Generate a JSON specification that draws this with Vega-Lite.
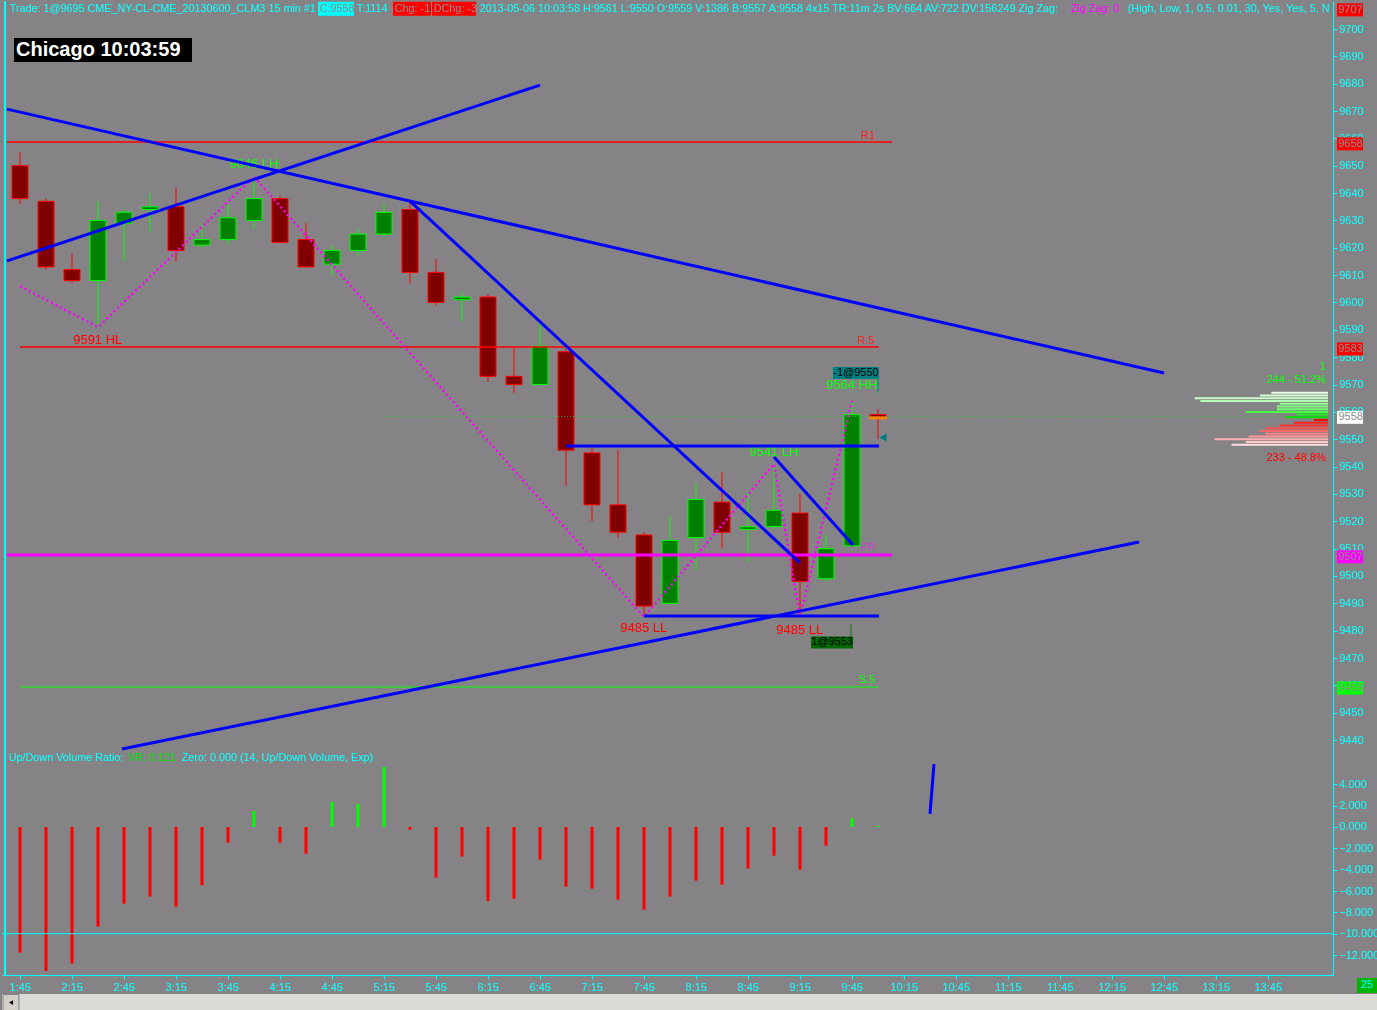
{
"$schema": "https://vega.github.io/schema/vega-lite/v6.json",
"background": "#858385",
"padding": 0,
"spacing": 0,
"bounds": "flush",
"config": {"view": {"stroke": null}, "scale": {"continuousPadding": 0}, "axis": {"labelFont": "Liberation Sans", "labelFontSize": 11, "labelColor": "#00ffff", "domainColor": "#00ffff", "tickColor": "#00ffff", "grid": false, "labelOverlap": false, "labelFlush": false}, "text": {"font": "Liberation Sans", "fontSize": 11}},
"datasets": {
"candles": [
{"t":"2013-05-06T01:45","open":9650,"high":9655,"low":9636,"close":9638},
{"t":"2013-05-06T02:00","open":9637,"high":9638,"low":9612,"close":9613},
{"t":"2013-05-06T02:15","open":9612,"high":9618,"low":9607,"close":9608},
{"t":"2013-05-06T02:30","open":9608,"high":9637,"low":9591,"close":9630},
{"t":"2013-05-06T02:45","open":9629,"high":9634,"low":9615,"close":9633},
{"t":"2013-05-06T03:00","open":9634,"high":9640,"low":9626,"close":9635},
{"t":"2013-05-06T03:15","open":9635,"high":9642,"low":9615,"close":9619},
{"t":"2013-05-06T03:30","open":9621,"high":9629,"low":9620,"close":9623},
{"t":"2013-05-06T03:45","open":9623,"high":9636,"low":9621,"close":9631},
{"t":"2013-05-06T04:00","open":9630,"high":9646,"low":9627,"close":9638},
{"t":"2013-05-06T04:15","open":9638,"high":9639,"low":9622,"close":9622},
{"t":"2013-05-06T04:30","open":9623,"high":9629,"low":9613,"close":9613},
{"t":"2013-05-06T04:45","open":9614,"high":9621,"low":9610,"close":9619},
{"t":"2013-05-06T05:00","open":9619,"high":9627,"low":9617,"close":9625},
{"t":"2013-05-06T05:15","open":9625,"high":9636,"low":9624,"close":9633},
{"t":"2013-05-06T05:30","open":9634,"high":9637,"low":9607,"close":9611},
{"t":"2013-05-06T05:45","open":9611,"high":9616,"low":9599,"close":9600},
{"t":"2013-05-06T06:00","open":9601,"high":9604,"low":9593,"close":9602},
{"t":"2013-05-06T06:15","open":9602,"high":9603,"low":9571,"close":9573},
{"t":"2013-05-06T06:30","open":9573,"high":9584,"low":9567,"close":9570},
{"t":"2013-05-06T06:45","open":9570,"high":9593,"low":9570,"close":9584},
{"t":"2013-05-06T07:00","open":9582,"high":9583,"low":9533,"close":9546},
{"t":"2013-05-06T07:15","open":9545,"high":9547,"low":9520,"close":9526},
{"t":"2013-05-06T07:30","open":9526,"high":9546,"low":9514,"close":9516},
{"t":"2013-05-06T07:45","open":9515,"high":9516,"low":9486,"close":9489},
{"t":"2013-05-06T08:00","open":9490,"high":9522,"low":9490,"close":9513},
{"t":"2013-05-06T08:15","open":9514,"high":9534,"low":9502,"close":9528},
{"t":"2013-05-06T08:30","open":9527,"high":9538,"low":9510,"close":9516},
{"t":"2013-05-06T08:45","open":9517,"high":9531,"low":9505,"close":9518},
{"t":"2013-05-06T09:00","open":9518,"high":9541,"low":9517,"close":9524},
{"t":"2013-05-06T09:15","open":9523,"high":9530,"low":9486,"close":9498},
{"t":"2013-05-06T09:30","open":9499,"high":9515,"low":9498,"close":9510},
{"t":"2013-05-06T09:45","open":9511,"high":9564,"low":9511,"close":9559},
{"t":"2013-05-06T10:00","open":9559,"high":9561,"low":9550,"close":9558}
],
"vr": [
{"t":"2013-05-06T01:45","vr":-11.78},{"t":"2013-05-06T02:00","vr":-13.5},{"t":"2013-05-06T02:15","vr":-12.8},{"t":"2013-05-06T02:30","vr":-9.34},
{"t":"2013-05-06T02:45","vr":-7.19},{"t":"2013-05-06T03:00","vr":-6.53},{"t":"2013-05-06T03:15","vr":-7.47},{"t":"2013-05-06T03:30","vr":-5.44},
{"t":"2013-05-06T03:45","vr":-1.47},{"t":"2013-05-06T04:00","vr":1.5},{"t":"2013-05-06T04:15","vr":-1.47},{"t":"2013-05-06T04:30","vr":-2.5},
{"t":"2013-05-06T04:45","vr":2.34},{"t":"2013-05-06T05:00","vr":2.16},{"t":"2013-05-06T05:15","vr":5.63},{"t":"2013-05-06T05:30","vr":-0.25},
{"t":"2013-05-06T05:45","vr":-4.75},{"t":"2013-05-06T06:00","vr":-2.78},{"t":"2013-05-06T06:15","vr":-6.94},{"t":"2013-05-06T06:30","vr":-6.72},
{"t":"2013-05-06T06:45","vr":-3.06},{"t":"2013-05-06T07:00","vr":-5.59},{"t":"2013-05-06T07:15","vr":-5.78},{"t":"2013-05-06T07:30","vr":-6.81},
{"t":"2013-05-06T07:45","vr":-7.75},{"t":"2013-05-06T08:00","vr":-6.53},{"t":"2013-05-06T08:15","vr":-5.03},{"t":"2013-05-06T08:30","vr":-5.4},
{"t":"2013-05-06T08:45","vr":-3.9},{"t":"2013-05-06T09:00","vr":-2.69},{"t":"2013-05-06T09:15","vr":-4.0},{"t":"2013-05-06T09:30","vr":-1.75},
{"t":"2013-05-06T09:45","vr":0.81},{"t":"2013-05-06T10:00","vr":0.121}
],
"profile": [
{"price":9567,"vol":20},{"price":9566,"vol":24},{"price":9565,"vol":47},{"price":9564,"vol":45},{"price":9563,"vol":17},
{"price":9562,"vol":18},{"price":9561,"vol":18},{"price":9560,"vol":29},{"price":9559,"vol":11},{"price":9558,"vol":15},
{"price":9557,"vol":5},{"price":9556,"vol":12},{"price":9555,"vol":17},{"price":9554,"vol":22},{"price":9553,"vol":24},
{"price":9552,"vol":22},{"price":9551,"vol":28},{"price":9550,"vol":40},{"price":9549,"vol":29},{"price":9548,"vol":34}
]
},
"vconcat": [
{
"width": 1331, "height": 750,
"layer": [
{"layer": [
{"data": {"name": "candles"}, "mark": {"type": "rule", "strokeWidth": 1},
 "encoding": {
  "x": {"field": "t", "type": "temporal", "axis": null, "scale": {"domain": [{"year":2013,"month":5,"date":6,"hours":1,"minutes":34,"seconds":37},{"year":2013,"month":5,"date":6,"hours":14,"minutes":22,"seconds":30}], "nice": false, "padding": 0}},
  "y": {"field": "low", "type": "quantitative", "scale": {"domain": [9436, 9710.24], "nice": false, "zero": false}, "axis": {"orient": "right", "title": null, "values": [9440,9450,9460,9470,9480,9490,9500,9510,9520,9530,9540,9550,9560,9570,9580,9590,9600,9610,9620,9630,9640,9650,9660,9670,9680,9690,9700], "tickCount": 100, "format": "d", "tickSize": 4, "labelPadding": 2, "labelOverlap": false}},
  "y2": {"field": "high"},
  "color": {"condition": {"test": "datum.close >= datum.open", "value": "#00ff00"}, "value": "#ff0000"}}},
{"data": {"name": "candles"}, "mark": {"type": "bar", "size": 16, "strokeWidth": 1},
 "encoding": {
  "x": {"field": "t", "type": "temporal", "axis": null},
  "y": {"field": "open", "type": "quantitative"},
  "y2": {"field": "close"},
  "fill": {"condition": {"test": "datum.close >= datum.open", "value": "#008000"}, "value": "#800000"},
  "stroke": {"condition": {"test": "datum.close >= datum.open", "value": "#00ff00"}, "value": "#ff0000"}}},
{"data": {"values": [
  {"name":"R1","p":9658.7,"t1":"2013-05-06T01:37:30","t2":"2013-05-06T10:08:05"},
  {"name":"R.5","p":9583.7,"t1":"2013-05-06T01:45","t2":"2013-05-06T10:00:35"},
  {"name":"PP","p":9507.7,"t1":"2013-05-06T01:37:30","t2":"2013-05-06T10:08:05"},
  {"name":"S.5","p":9459.4,"t1":"2013-05-06T01:45","t2":"2013-05-06T10:00:35"}]},
 "mark": {"type": "rule"},
 "encoding": {
  "x": {"field": "t1", "type": "temporal", "axis": null}, "x2": {"field": "t2"},
  "y": {"field": "p", "type": "quantitative"},
  "color": {"field": "name", "type": "nominal", "scale": {"domain": ["R1","R.5","PP","S.5"], "range": ["#ff0000","#ff0000","#ff00ff","#00ff00"]}, "legend": null},
  "strokeWidth": {"condition": [{"test": "datum.name == 'PP'", "value": 3}, {"test": "datum.name == 'S.5'", "value": 1}], "value": 1.5}}},
{"data": {"values": [
  {"name":"R1","p":9660.9,"t":"2013-05-06T09:54:14"},
  {"name":"R.5","p":9585.9,"t":"2013-05-06T09:53:05"},
  {"name":"PP","p":9510.2,"t":"2013-05-06T09:54:14"},
  {"name":"S.5","p":9461.9,"t":"2013-05-06T09:53:39"}]},
 "mark": {"type": "text", "align": "center", "baseline": "middle", "fontSize": 11},
 "encoding": {
  "x": {"field": "t", "type": "temporal", "axis": null},
  "y": {"field": "p", "type": "quantitative"},
  "text": {"field": "name"},
  "color": {"field": "name", "type": "nominal", "scale": {"domain": ["R1","R.5","PP","S.5"], "range": ["#ff2020","#ff2020","#d040d0","#00ff00"]}, "legend": null}}},
{"data": {"values": [
  {"t":"2013-05-06T01:45","p":9606},{"t":"2013-05-06T02:30","p":9591},{"t":"2013-05-06T04:00","p":9646},
  {"t":"2013-05-06T07:45","p":9485},{"t":"2013-05-06T09:00","p":9541},{"t":"2013-05-06T09:15","p":9485},{"t":"2013-05-06T09:45","p":9564}]},
 "mark": {"type": "line", "color": "#ff00ff", "strokeWidth": 2.5, "strokeDash": [2, 3]},
 "encoding": {
  "x": {"field": "t", "type": "temporal", "axis": null},
  "y": {"field": "p", "type": "quantitative"}}},
{"data": {"values": [
  {"t":"2013-05-06T02:30","p":9586.3,"text":"9591 HL","kind":"low"},
  {"t":"2013-05-06T04:00","p":9650.6,"text":"9646 LH","kind":"high"},
  {"t":"2013-05-06T07:45","p":9481.0,"text":"9485 LL","kind":"low"},
  {"t":"2013-05-06T09:00","p":9545.3,"text":"9541 LH","kind":"high"},
  {"t":"2013-05-06T09:15","p":9480.3,"text":"9485 LL","kind":"low"},
  {"t":"2013-05-06T09:45","p":9569.8,"text":"9564 HH","kind":"high"}]},
 "mark": {"type": "text", "align": "center", "baseline": "middle", "fontSize": 13},
 "encoding": {
  "x": {"field": "t", "type": "temporal", "axis": null},
  "y": {"field": "p", "type": "quantitative"},
  "text": {"field": "text"},
  "color": {"field": "kind", "type": "nominal", "scale": {"domain": ["low","high"], "range": ["#ff0000","#00ff00"]}, "legend": null}}},
{"data": {"values": [{"t":"2013-05-06T05:15","t2":"2013-05-06T14:19:36","p":9558.3}]},
 "mark": {"type": "rule", "color": "#30d030", "strokeWidth": 1, "strokeDash": [1, 2], "opacity": 0.8},
 "encoding": {
  "x": {"field": "t", "type": "temporal", "axis": null}, "x2": {"field": "t2"},
  "y": {"field": "p", "type": "quantitative"}}},
{"data": {"values": [
  {"id":1,"t":"2013-05-06T01:37:30","p":9670.7},{"id":1,"t":"2013-05-06T12:45","p":9574.2},
  {"id":2,"t":"2013-05-06T01:37:30","p":9615.2},{"id":2,"t":"2013-05-06T06:45","p":9679.5},
  {"id":3,"t":"2013-05-06T05:30","p":9637.1},{"id":3,"t":"2013-05-06T09:15","p":9504.8},
  {"id":4,"t":"2013-05-06T09:00","p":9543.5},{"id":4,"t":"2013-05-06T09:45:35","p":9511.3},
  {"id":5,"t":"2013-05-06T07:00","p":9547.5},{"id":5,"t":"2013-05-06T10:00:35","p":9547.5},
  {"id":6,"t":"2013-05-06T07:45","p":9485.4},{"id":6,"t":"2013-05-06T10:00:35","p":9485.4},
  {"id":7,"t":"2013-05-06T02:43:50","p":9436.7},{"id":7,"t":"2013-05-06T12:30:35","p":9512.4}]},
 "mark": {"type": "line", "color": "#0000ff", "strokeWidth": 3},
 "encoding": {
  "x": {"field": "t", "type": "temporal", "axis": null},
  "y": {"field": "p", "type": "quantitative"},
  "detail": {"field": "id", "type": "nominal"}}},
{"data": {"values": [
  {"t":"2013-05-06T09:34:02","t2":"2013-05-06T10:00:35","p":9574.2,"kind":"sell"},
  {"t":"2013-05-06T09:21:21","t2":"2013-05-06T09:45:35","p":9475.7,"kind":"buy"}]},
 "mark": {"type": "rule", "strokeWidth": 12, "strokeCap": "butt"},
 "encoding": {
  "x": {"field": "t", "type": "temporal", "axis": null}, "x2": {"field": "t2"},
  "y": {"field": "p", "type": "quantitative"},
  "color": {"field": "kind", "type": "nominal", "scale": {"domain": ["sell","buy"], "range": ["#008080","#006a00"]}, "legend": null}}},
{"data": {"values": [
  {"t":"2013-05-06T10:00","p":9572,"p2":9567,"kind":"sell"},
  {"t":"2013-05-06T09:44:25","p":9482.4,"p2":9477.7,"kind":"buy"}]},
 "mark": {"type": "rule", "strokeWidth": 1},
 "encoding": {
  "x": {"field": "t", "type": "temporal", "axis": null},
  "y": {"field": "p", "type": "quantitative"}, "y2": {"field": "p2"},
  "color": {"field": "kind", "type": "nominal", "scale": {"domain": ["sell","buy"], "range": ["#008080","#008000"]}, "legend": null}}},
{"data": {"values": [
  {"t":"2013-05-06T09:47:18","p":9574.2,"text":"-1@9550"},
  {"t":"2013-05-06T09:33:28","p":9475.7,"text":"1@9553"}]},
 "mark": {"type": "text", "align": "center", "baseline": "middle", "fontSize": 11, "color": "#000000"},
 "encoding": {
  "x": {"field": "t", "type": "temporal", "axis": null},
  "y": {"field": "p", "type": "quantitative"},
  "text": {"field": "text"}}},
{"data": {"values": [{"t":"2013-05-06T09:54:48","t2":"2013-05-06T10:05:12","p":9557.8}]},
 "mark": {"type": "rule", "color": "#ff8000", "strokeWidth": 3},
 "encoding": {
  "x": {"field": "t", "type": "temporal", "axis": null}, "x2": {"field": "t2"},
  "y": {"field": "p", "type": "quantitative"}}},
{"data": {"values": [{"t":"2013-05-06T10:02:54","p":9550.6}]},
 "mark": {"type": "point", "shape": "triangle-left", "filled": true, "color": "#008080", "size": 70, "opacity": 1},
 "encoding": {
  "x": {"field": "t", "type": "temporal", "axis": null},
  "y": {"field": "p", "type": "quantitative"}}},
{"data": {"values": [{"t":"2013-05-06T01:41:32","t2":"2013-05-06T03:24:14","p":9692.3}]},
 "mark": {"type": "rule", "color": "#000000", "strokeWidth": 24, "strokeCap": "butt"},
 "encoding": {
  "x": {"field": "t", "type": "temporal", "axis": null}, "x2": {"field": "t2"},
  "y": {"field": "p", "type": "quantitative"}}},
{"data": {"values": [{"t":"2013-05-06T01:42:42","p":9692.3,"text":"Chicago 10:03:59"}]},
 "mark": {"type": "text", "align": "left", "baseline": "middle", "fontSize": 20, "fontWeight": "bold", "font": "Liberation Sans", "color": "#ffffff"},
 "encoding": {
  "x": {"field": "t", "type": "temporal", "axis": null},
  "y": {"field": "p", "type": "quantitative"},
  "text": {"field": "text"}}},
{"data": {"values": [
  {"t":"2013-05-06T04:36:55","t2":"2013-05-06T04:57:42","kind":"cur"},
  {"t":"2013-05-06T05:20:12","t2":"2013-05-06T05:42:07","kind":"chg"},
  {"t":"2013-05-06T05:42:42","t2":"2013-05-06T06:08:05","kind":"chg"}]},
 "mark": {"type": "rule", "strokeWidth": 14, "strokeCap": "butt"},
 "encoding": {
  "x": {"field": "t", "type": "temporal", "axis": null}, "x2": {"field": "t2"},
  "y": {"datum": 9707.4, "type": "quantitative"},
  "color": {"field": "kind", "type": "nominal", "scale": {"domain": ["cur","chg"], "range": ["#00ffff","#ff0000"]}, "legend": null}}},
{"data": {"values": [
  {"t":"2013-05-06T01:39:14","text":"Trade: 1@9695 CME_NY-CL-CME_20130600_CLM3  15 min   #1","kind":"info"},
  {"t":"2013-05-06T04:38:05","text":"C:9558","kind":"boxed"},
  {"t":"2013-05-06T04:59:25","text":"T:1114","kind":"info"},
  {"t":"2013-05-06T05:21:21","text":"Chg: -1","kind":"boxed"},
  {"t":"2013-05-06T05:43:51","text":"DChg: -3","kind":"boxed"},
  {"t":"2013-05-06T06:10:23","text":"2013-05-06 10:03:58 H:9561 L:9550 O:9559 V:1386 B:9557 A:9558 4x15 TR:11m 2s BV:664 AV:722 DV:156249  Zig Zag:","kind":"info"},
  {"t":"2013-05-06T11:51:21","text":"Zig Zag: 0","kind":"zz"},
  {"t":"2013-05-06T12:24:14","text":"(High, Low, 1, 0.5, 0.01, 30, Yes, Yes, 5, N","kind":"info"}]},
 "mark": {"type": "text", "align": "left", "baseline": "middle", "fontSize": 10.8},
 "encoding": {
  "x": {"field": "t", "type": "temporal", "axis": null},
  "y": {"datum": 9707.3, "type": "quantitative"},
  "text": {"field": "text"},
  "color": {"field": "kind", "type": "nominal", "scale": {"domain": ["info","boxed","zz"], "range": ["#00ffff","#8c8c8c","#ff00ff"]}, "legend": null}}},
{"data": {"values": [
  {"p":9707,"label":"9707","kind":"R"},{"p":9658,"label":"9658","kind":"R"},{"p":9583,"label":"9583","kind":"R"},
  {"p":9558,"label":"9558","kind":"cur"},{"p":9507,"label":"9507","kind":"PP"},{"p":9459,"label":"9459","kind":"S"}]},
 "layer": [
  {"mark": {"type": "rule", "strokeWidth": 13, "strokeCap": "butt", "clip": false},
   "encoding": {
    "x": {"datum": {"year":2013,"month":5,"date":6,"hours":14,"minutes":24,"seconds":49}, "type": "temporal", "axis": null},
    "x2": {"datum": {"year":2013,"month":5,"date":6,"hours":14,"minutes":39,"seconds":49}},
    "y": {"field": "p", "type": "quantitative"},
    "color": {"field": "kind", "type": "nominal", "scale": {"domain": ["R","cur","PP","S"], "range": ["#ff0000","#ffffff","#ff00ff","#00ff00"]}, "legend": null}}},
  {"mark": {"type": "text", "align": "left", "baseline": "middle", "fontSize": 11, "color": "#8c8c8c", "clip": false},
   "encoding": {
    "x": {"datum": {"year":2013,"month":5,"date":6,"hours":14,"minutes":25,"seconds":40}, "type": "temporal", "axis": null},
    "y": {"field": "p", "type": "quantitative"},
    "text": {"field": "label"}}}
 ]},
{"data": {"values": [
  {"p":9576.4,"text":"1","kind":"up"},
  {"p":9571.7,"text":"244 - 51.2%","kind":"up"},
  {"p":9543.1,"text":"233 - 48.8%","kind":"down"}]},
 "mark": {"type": "text", "align": "right", "baseline": "middle", "fontSize": 11},
 "encoding": {
  "x": {"datum": {"year":2013,"month":5,"date":6,"hours":14,"minutes":18,"seconds":28}, "type": "temporal", "axis": null},
  "y": {"field": "p", "type": "quantitative"},
  "text": {"field": "text"},
  "color": {"field": "kind", "type": "nominal", "scale": {"domain": ["up","down"], "range": ["#00ff00","#ff0000"]}, "legend": null}}},
{"data": {"values": [{}]},
 "mark": {"type": "rule", "color": "#00ffff", "strokeWidth": 2},
 "encoding": {"x": {"datum": {"year":2013,"month":5,"date":6,"hours":1,"minutes":36,"seconds":21}, "type": "temporal", "axis": null}}}
],
"resolve": {"scale": {"color": "independent"}}},
{"data": {"name": "profile"}, "mark": {"type": "rule", "strokeWidth": 2},
 "encoding": {
  "x": {"field": "vol", "type": "quantitative", "scale": {"domain": [-1.76, 467.4], "reverse": true, "nice": false, "zero": false}, "axis": null},
  "x2": {"datum": 0},
  "y": {"field": "price", "type": "quantitative"},
  "color": {"field": "price", "type": "ordinal", "scale": {"domain": [9567,9566,9565,9564,9563,9562,9561,9560,9559,9558,9557,9556,9555,9554,9553,9552,9551,9550,9549,9548], "range": ["#e8ffe8","#d8ffd8","#c8ffc8","#b8ffb8","#90ff90","#80ff80","#70ff70","#40ff40","#20f020","#00e000","#ff0000","#ff2020","#ff3838","#ff5050","#ff6868","#ff8080","#ff9898","#ffb0b0","#ffc8c8","#ffe0e0"]}, "legend": null}}}
],
"resolve": {"scale": {"x": "independent", "color": "independent"}}
},
{
"width": 1331, "height": 224,
"layer": [
{"data": {"name": "vr"}, "mark": {"type": "bar", "size": 3},
 "encoding": {
  "x": {"field": "t", "type": "temporal", "scale": {"domain": [{"year":2013,"month":5,"date":6,"hours":1,"minutes":34,"seconds":37},{"year":2013,"month":5,"date":6,"hours":14,"minutes":22,"seconds":30}], "nice": false, "padding": 0},
   "axis": {"title": null, "format": "%-H:%M", "tickSize": 4, "labelPadding": 2, "labelOverlap": false, "tickCount": 100, "values": [
    {"year":2013,"month":5,"date":6,"hours":1,"minutes":45},{"year":2013,"month":5,"date":6,"hours":2,"minutes":15},
    {"year":2013,"month":5,"date":6,"hours":2,"minutes":45},{"year":2013,"month":5,"date":6,"hours":3,"minutes":15},
    {"year":2013,"month":5,"date":6,"hours":3,"minutes":45},{"year":2013,"month":5,"date":6,"hours":4,"minutes":15},
    {"year":2013,"month":5,"date":6,"hours":4,"minutes":45},{"year":2013,"month":5,"date":6,"hours":5,"minutes":15},
    {"year":2013,"month":5,"date":6,"hours":5,"minutes":45},{"year":2013,"month":5,"date":6,"hours":6,"minutes":15},
    {"year":2013,"month":5,"date":6,"hours":6,"minutes":45},{"year":2013,"month":5,"date":6,"hours":7,"minutes":15},
    {"year":2013,"month":5,"date":6,"hours":7,"minutes":45},{"year":2013,"month":5,"date":6,"hours":8,"minutes":15},
    {"year":2013,"month":5,"date":6,"hours":8,"minutes":45},{"year":2013,"month":5,"date":6,"hours":9,"minutes":15},
    {"year":2013,"month":5,"date":6,"hours":9,"minutes":45},{"year":2013,"month":5,"date":6,"hours":10,"minutes":15},
    {"year":2013,"month":5,"date":6,"hours":10,"minutes":45},{"year":2013,"month":5,"date":6,"hours":11,"minutes":15},
    {"year":2013,"month":5,"date":6,"hours":11,"minutes":45},{"year":2013,"month":5,"date":6,"hours":12,"minutes":15},
    {"year":2013,"month":5,"date":6,"hours":12,"minutes":45},{"year":2013,"month":5,"date":6,"hours":13,"minutes":15},
    {"year":2013,"month":5,"date":6,"hours":13,"minutes":45}]}},
  "y": {"field": "vr", "type": "quantitative", "scale": {"domain": [-13.87, 7.12], "nice": false, "zero": false}, "axis": {"orient": "right", "title": null, "values": [-12,-10,-8,-6,-4,-2,0,2,4], "tickCount": 100, "format": ".3f", "tickSize": 4, "labelPadding": 2, "labelOverlap": false}},
  "y2": {"datum": 0},
  "color": {"condition": {"test": "datum.vr > 0", "value": "#00ff00"}, "value": "#ff0000"}}},
{"data": {"values": [{}]},
 "mark": {"type": "rule", "color": "#00ffff", "strokeWidth": 1},
 "encoding": {"y": {"datum": -10, "type": "quantitative"}}},
{"data": {"values": [{"t":"2013-05-06T10:30","v":1.22},{"t":"2013-05-06T10:32:18","v":5.9}]},
 "mark": {"type": "line", "color": "#0000ff", "strokeWidth": 3},
 "encoding": {
  "x": {"field": "t", "type": "temporal"},
  "y": {"field": "v", "type": "quantitative"}}},
{"data": {"values": [
  {"t":"2013-05-06T01:38:39","text":"Up/Down Volume Ratio:","kind":"c"},
  {"t":"2013-05-06T02:47:19","text":"VR: 0.121","kind":"g"},
  {"t":"2013-05-06T03:18:28","text":"Zero: 0.000   (14, Up/Down Volume, Exp)","kind":"c"}]},
 "mark": {"type": "text", "align": "left", "baseline": "middle", "fontSize": 10.8},
 "encoding": {
  "x": {"field": "t", "type": "temporal"},
  "y": {"datum": 6.47, "type": "quantitative"},
  "text": {"field": "text"},
  "color": {"field": "kind", "type": "nominal", "scale": {"domain": ["c","g"], "range": ["#00ffff","#00e000"]}, "legend": null}}},
{"data": {"values": [{"t":"2013-05-06T01:34:37","t2":"2013-05-06T14:49:02","v":-15.65,"v2":-17.4}]},
 "mark": {"type": "rect", "color": "#dcdad6", "clip": false},
 "encoding": {
  "x": {"field": "t", "type": "temporal"}, "x2": {"field": "t2"},
  "y": {"field": "v", "type": "quantitative"}, "y2": {"field": "v2"}}},
{"data": {"values": [{"t":"2013-05-06T01:35:12","t2":"2013-05-06T01:44:25","v":-15.7,"v2":-17.2}]},
 "mark": {"type": "rect", "color": "#d4d0c8", "stroke": "#808080", "strokeWidth": 1, "clip": false},
 "encoding": {
  "x": {"field": "t", "type": "temporal"}, "x2": {"field": "t2"},
  "y": {"field": "v", "type": "quantitative"}, "y2": {"field": "v2"}}},
{"data": {"values": [{"t":"2013-05-06T01:39:49","v":-16.45}]},
 "mark": {"type": "point", "shape": "triangle-left", "filled": true, "color": "#000000", "size": 22, "opacity": 1, "clip": false},
 "encoding": {
  "x": {"field": "t", "type": "temporal"},
  "y": {"field": "v", "type": "quantitative"}}},
{"data": {"values": [{"t":"2013-05-06T14:36:21","t2":"2013-05-06T14:47:53","v":-14.85}]},
 "mark": {"type": "rule", "color": "#00b400", "strokeWidth": 15, "strokeCap": "butt", "clip": false},
 "encoding": {
  "x": {"field": "t", "type": "temporal"}, "x2": {"field": "t2"},
  "y": {"field": "v", "type": "quantitative"}}},
{"data": {"values": [{"t":"2013-05-06T14:42:07","v":-14.85,"text":"25"}]},
 "mark": {"type": "text", "align": "center", "baseline": "middle", "fontSize": 11, "color": "#00ffff", "clip": false},
 "encoding": {
  "x": {"field": "t", "type": "temporal"},
  "y": {"field": "v", "type": "quantitative"},
  "text": {"field": "text"}}},
{"data": {"values": [{}]},
 "mark": {"type": "rule", "color": "#00ffff", "strokeWidth": 2},
 "encoding": {"x": {"datum": {"year":2013,"month":5,"date":6,"hours":1,"minutes":36,"seconds":21}, "type": "temporal"}}}
],
"resolve": {"scale": {"color": "independent"}}
}
]
}
